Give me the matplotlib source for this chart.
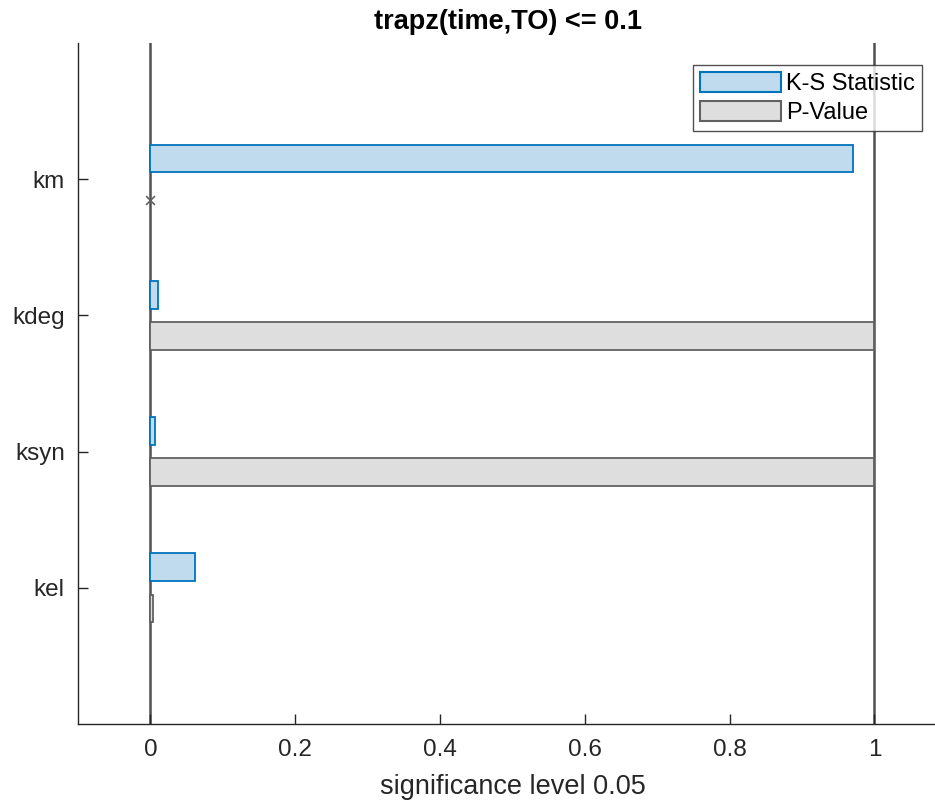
import matplotlib
matplotlib.use("Agg")
import matplotlib.pyplot as plt
from matplotlib.patches import Patch
import numpy as np

plt.rcParams['font.family'] = ['Liberation Sans', 'DejaVu Sans']

params = ["kel", "ksyn", "kdeg", "km"]
ks_stat = [0.061, 0.007, 0.011, 0.971]
p_value = [0.003, 1.0, 1.0, 0.0]
p_missing = [False, False, False, True]
title = "trapz(time,TO) <= 0.1"
xlabel = "significance level 0.05"
xticks = [0, 0.2, 0.4, 0.6, 0.8, 1]
xticklabels = ["0", "0.2", "0.4", "0.6", "0.8", "1"]

W, H = 935, 802
fig = plt.figure(figsize=(W / 100, H / 100), dpi=100)
x0, x1 = -0.1, 1.1
left_px = 78
scale = 724.0
right_px = left_px + (x1 - x0) * scale
top_px, bot_px = 43, 724
ax = fig.add_axes([left_px / W, 1 - bot_px / H, (right_px - left_px) / W, (bot_px - top_px) / H])

ypos = np.arange(1, len(params) + 1)
h = 0.205
off = 0.152
ks_face = (0.75, 0.86, 0.93)
ks_edge = (0.0, 0.45, 0.74)
p_face = (0.87, 0.87, 0.87)
p_edge = (0.38, 0.38, 0.38)

ax.axvline(0, color="#505050", lw=1.8, zorder=1)
ax.axvline(1, color="#505050", lw=1.8, zorder=1)

ax.barh(ypos + off, ks_stat, height=h, color=ks_face, edgecolor=ks_edge, linewidth=1.3, zorder=2)
pv = np.array(p_value)
mask = ~np.array(p_missing)
ax.barh((ypos - off)[mask], pv[mask], height=h, color=p_face, edgecolor=p_edge, linewidth=1.3, zorder=2)
ax.scatter(pv[~mask], (ypos - off)[~mask], marker="x", s=40, color="#606060", linewidths=1.2, zorder=3)

ax.set_xlim(x0, x1)
ax.set_ylim(0, 5)
ax.set_yticks(ypos)
ax.set_yticklabels(params)
ax.set_xticks(xticks)
ax.set_xticklabels(xticklabels)
for s in ["top", "right"]:
    ax.spines[s].set_visible(False)
for s in ["left", "bottom"]:
    ax.spines[s].set_color("#262626")
    ax.spines[s].set_linewidth(1.0)
ax.tick_params(direction="in", length=7, width=1, colors="#262626", labelsize=17.5, pad=9.5)
ax.tick_params(axis="x", pad=10.5)
for t in ax.get_xticklabels() + ax.get_yticklabels():
    t.set_color("#262626")
ax.set_xlabel(xlabel, fontsize=19.5, color="#262626", labelpad=10)
fig.text(508 / W, 1 - 22 / H, title, ha="center", va="center", fontsize=19.5, fontweight="bold", color="black")

handles = [Patch(facecolor=ks_face, edgecolor=ks_edge, linewidth=1.5, label="K-S Statistic"),
           Patch(facecolor=p_face, edgecolor=p_edge, linewidth=1.5, label="P-Value")]
leg = fig.legend(handles=handles, loc="upper right", bbox_to_anchor=(922 / W, 1 - 65 / H),
                 fontsize=17, frameon=True, fancybox=False, edgecolor="#262626",
                 handlelength=3.43, handleheight=0.93, handletextpad=0.2, borderpad=0.3,
                 labelspacing=0.25, borderaxespad=0)
leg.get_frame().set_linewidth(1.0)

fig.savefig("out.png", dpi=100)
